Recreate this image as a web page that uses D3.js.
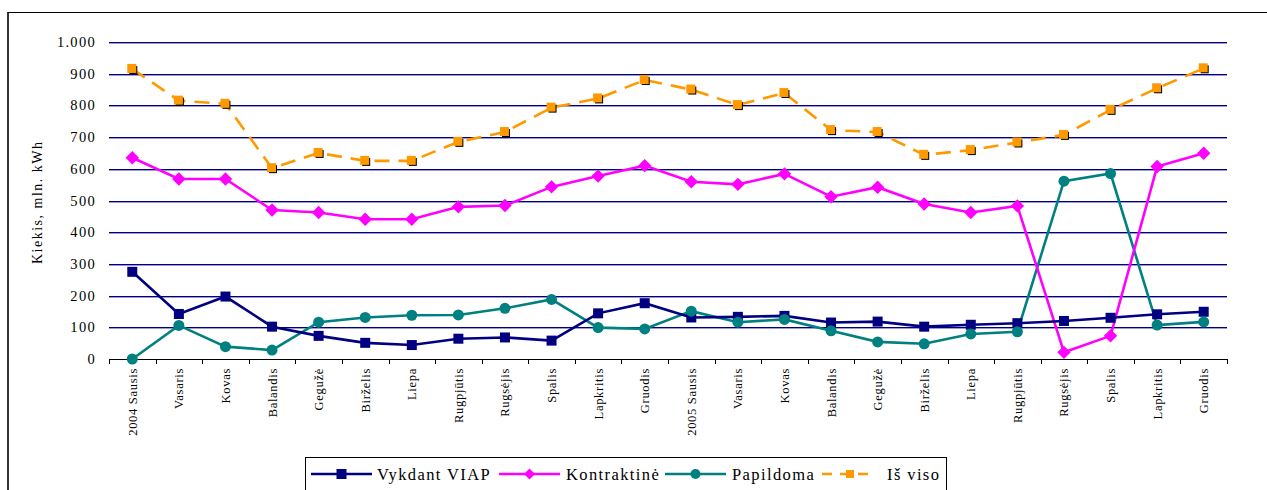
<!DOCTYPE html>
<html lang="lt">
<head>
<meta charset="utf-8">
<title>Kiekis, mln. kWh</title>
<script src="https://cdn.jsdelivr.net/npm/d3@7"></script>
<style>
  body { margin: 0; background: #fff; }
</style>
</head>
<body>
<div id="chart"></div>
<script>
var months = ["2004 Sausis","Vasaris","Kovas","Balandis","Gegužė","Birželis","Liepa","Rugpjūtis","Rugsėjis","Spalis","Lapkritis","Gruodis",
              "2005 Sausis","Vasaris","Kovas","Balandis","Gegužė","Birželis","Liepa","Rugpjūtis","Rugsėjis","Spalis","Lapkritis","Gruodis"];
var viap       = [275,142,197,102,73,51,44,64,68,58,144,176,131,133,136,115,118,102,108,113,120,130,141,149];
var kontrakt   = [635,568,568,470,462,441,441,480,484,543,577,610,559,551,584,512,542,489,462,483,21,73,607,649];
var papildoma  = [0,106,39,28,116,131,138,139,160,188,99,95,151,116,125,89,54,48,79,86,561,585,107,117];
var isviso     = [915,815,805,602,650,625,625,685,716,793,822,880,850,801,839,722,716,644,659,683,707,786,854,917];
var yTicks     = [0,100,200,300,400,500,600,700,800,900,1000];
var seriesNames = ["Vykdant VIAP","Kontraktinė","Papildoma","Iš viso"];

var W = 1267, H = 490;
var margin = {left: 109, right: 1227, top: 42, bottom: 359};
var FONT = "'Liberation Serif', 'Times New Roman', serif";

var svg = d3.select("#chart").append("svg")
    .attr("width", W).attr("height", H)
    .style("display", "block");

// outer frame
svg.append("line").attr("x1", 8).attr("x2", 8).attr("y1", 12).attr("y2", H)
  .attr("stroke", "#333").attr("stroke-width", 2);
svg.append("line").attr("x1", 8).attr("x2", W).attr("y1", 12.5).attr("y2", 12.5)
  .attr("stroke", "#000").attr("stroke-width", 1);

var idx = d3.range(months.length);
var x = d3.scaleBand().domain(idx).range([margin.left, margin.right]);
var y = d3.scaleLinear().domain([0, 1000]).range([margin.bottom, margin.top]);
var cx = function(i) { return x(i) + x.bandwidth() / 2; };

// gridlines
yTicks.filter(function(t) { return t > 0; }).forEach(function(t) {
  svg.append("line").attr("x1", margin.left).attr("x2", margin.right)
    .attr("y1", Math.round(y(t)) + 1.5).attr("y2", Math.round(y(t)) + 1.5)
    .attr("stroke", "#9a9ad0").attr("stroke-width", 1);
  svg.append("line").attr("x1", margin.left).attr("x2", margin.right)
    .attr("y1", Math.round(y(t)) + 0.5).attr("y2", Math.round(y(t)) + 0.5)
    .attr("stroke", "#000080").attr("stroke-width", 1.2);
});

// y tick labels
var fmt = function(v) { return v >= 1000 ? d3.format(",")(v).replace(",", ".") : String(v); };
svg.selectAll(".ylab").data(yTicks).enter().append("text")
  .attr("x", 96).attr("y", function(d) { return y(d) + 5; })
  .attr("text-anchor", "end").attr("font-size", 14.5).attr("fill", "#000")
  .style("font-family", FONT).style("letter-spacing", "1.3px")
  .text(fmt);

// x axis
svg.append("line").attr("x1", margin.left).attr("x2", margin.right)
  .attr("y1", margin.bottom + 0.5).attr("y2", margin.bottom + 0.5)
  .attr("stroke", "#000").attr("stroke-width", 1);
d3.range(months.length + 1).forEach(function(i) {
  var xx = Math.round(margin.left + i * x.bandwidth()) + 0.5;
  svg.append("line").attr("x1", xx).attr("x2", xx).attr("y1", margin.bottom).attr("y2", margin.bottom + 5)
    .attr("stroke", "#000").attr("stroke-width", 1);
});
svg.selectAll(".xlab").data(idx).enter().append("text")
  .attr("transform", function(i) { return "translate(" + (cx(i) + 4.5) + "," + 368 + ") rotate(-90)"; })
  .attr("text-anchor", "end").attr("font-size", 12.5).attr("fill", "#000")
  .style("font-family", FONT).style("letter-spacing", "0.7px")
  .text(function(i) { return months[i]; });

// y axis title
svg.append("text")
  .attr("transform", "translate(42,203) rotate(-90)")
  .attr("text-anchor", "middle").attr("font-size", 14)
  .attr("textLength", 122).attr("lengthAdjust", "spacing")
  .style("font-family", FONT)
  .text("Kiekis, mln. kWh");

var line = d3.line().x(function(d, i) { return cx(i); }).y(function(d) { return y(d); });

function drawLine(data, color, dash) {
  svg.append("path").datum(data).attr("d", line)
    .attr("fill", "none").attr("stroke", color).attr("stroke-width", 2.6)
    .attr("stroke-dasharray", dash || null);
}

drawLine(isviso, "#FF9900", "15,9");
drawLine(papildoma, "#008080");
drawLine(kontrakt, "#FF00FF");
drawLine(viap, "#000080");

// markers
var diamond = d3.symbol().type(d3.symbolSquare).size(90);
svg.selectAll(".m1").data(viap).enter().append("rect")
  .attr("x", function(d, i) { return cx(i) - 5; }).attr("y", function(d) { return y(d) - 5; })
  .attr("width", 10).attr("height", 10).attr("fill", "#000080");
svg.selectAll(".m2").data(kontrakt).enter().append("path")
  .attr("d", diamond)
  .attr("transform", function(d, i) { return "translate(" + cx(i) + "," + y(d) + ") rotate(45)"; })
  .attr("fill", "#FF00FF");
svg.selectAll(".m3").data(papildoma).enter().append("circle")
  .attr("cx", function(d, i) { return cx(i); }).attr("cy", function(d) { return y(d); })
  .attr("r", 5.5).attr("fill", "#008080");
svg.selectAll(".m4s").data(isviso).enter().append("rect")
  .attr("x", function(d, i) { return cx(i) - 3; }).attr("y", function(d) { return y(d) - 3; })
  .attr("width", 8).attr("height", 8).attr("fill", "#000");
svg.selectAll(".m4").data(isviso).enter().append("rect")
  .attr("x", function(d, i) { return cx(i) - 5; }).attr("y", function(d) { return y(d) - 5; })
  .attr("width", 9).attr("height", 9).attr("fill", "#FF9900");

// legend
var lg = svg.append("g");
lg.append("rect").attr("x", 305.5).attr("y", 457.5).attr("width", 641).attr("height", 40)
  .attr("fill", "#fff").attr("stroke", "#000").attr("stroke-width", 1);
var legendX = [311, 499, 665, 822];
var legendText = [377, 566, 732, 887];
var legendCol = ["#000080", "#FF00FF", "#008080", "#FF9900"];
seriesNames.forEach(function(name, k) {
  var x0 = legendX[k], ly = 474;
  var len = k === 3 ? 50 : 61;
  lg.append("line").attr("x1", x0).attr("x2", x0 + len).attr("y1", ly).attr("y2", ly)
    .attr("stroke", legendCol[k]).attr("stroke-width", 2.6)
    .attr("stroke-dasharray", k === 3 ? "10,8" : null);
  var mx = k === 3 ? 850 : x0 + len / 2;
  if (k === 0) lg.append("rect").attr("x", mx - 5).attr("y", ly - 5).attr("width", 10).attr("height", 10).attr("fill", legendCol[k]);
  if (k === 1) lg.append("path").attr("d", d3.symbol().type(d3.symbolSquare).size(60)).attr("transform", "translate(" + mx + "," + ly + ") rotate(45)").attr("fill", legendCol[k]);
  if (k === 2) lg.append("circle").attr("cx", mx).attr("cy", ly).attr("r", 5).attr("fill", legendCol[k]);
  if (k === 3) lg.append("rect").attr("x", mx - 4).attr("y", ly - 4).attr("width", 8).attr("height", 8).attr("fill", legendCol[k]);
  lg.append("text").attr("x", legendText[k]).attr("y", 480)
    .attr("font-size", 16.5).style("font-family", FONT).style("letter-spacing", "1.4px")
    .text(name);
});
</script>
</body>
</html>
